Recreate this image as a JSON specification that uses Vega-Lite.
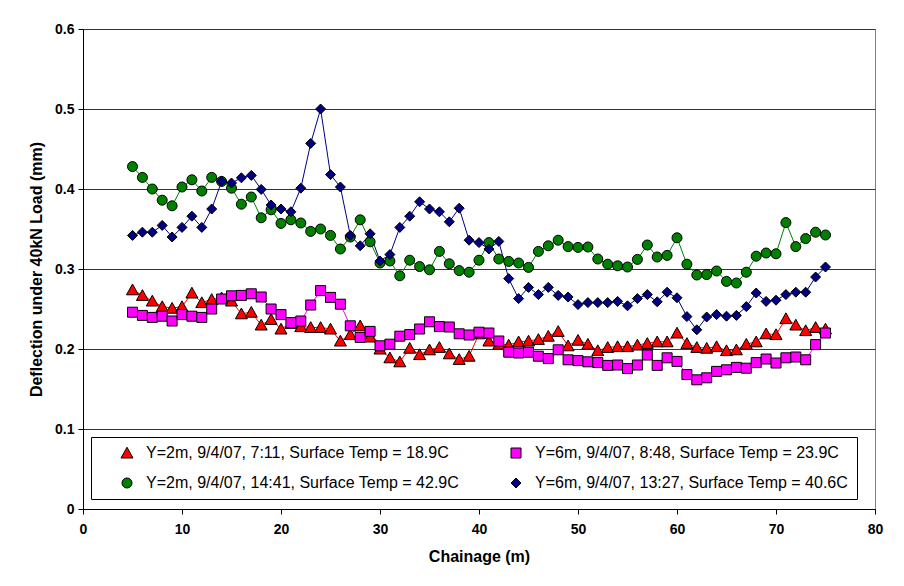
{
  "$schema": "https://vega.github.io/schema/vega-lite/v6.json",
  "width": 792,
  "height": 480,
  "autosize": {"type": "none"},
  "padding": {"left": 83, "top": 29, "right": 29, "bottom": 77},
  "background": "white",
  "config": {
    "view": {"stroke": "#808080", "strokeWidth": 1},
    "font": "Liberation Sans"
  },
  "datasets": {
    "d": [
      {"series": "Y=2m, 9/4/07, 7:11, Surface Temp = 18.9C", "chainage": 5, "deflection": 0.274},
      {"series": "Y=2m, 9/4/07, 7:11, Surface Temp = 18.9C", "chainage": 6, "deflection": 0.267},
      {"series": "Y=2m, 9/4/07, 7:11, Surface Temp = 18.9C", "chainage": 7, "deflection": 0.260},
      {"series": "Y=2m, 9/4/07, 7:11, Surface Temp = 18.9C", "chainage": 8, "deflection": 0.253},
      {"series": "Y=2m, 9/4/07, 7:11, Surface Temp = 18.9C", "chainage": 9, "deflection": 0.251},
      {"series": "Y=2m, 9/4/07, 7:11, Surface Temp = 18.9C", "chainage": 10, "deflection": 0.253},
      {"series": "Y=2m, 9/4/07, 7:11, Surface Temp = 18.9C", "chainage": 11, "deflection": 0.270},
      {"series": "Y=2m, 9/4/07, 7:11, Surface Temp = 18.9C", "chainage": 12, "deflection": 0.258},
      {"series": "Y=2m, 9/4/07, 7:11, Surface Temp = 18.9C", "chainage": 13, "deflection": 0.262},
      {"series": "Y=2m, 9/4/07, 7:11, Surface Temp = 18.9C", "chainage": 14, "deflection": 0.264},
      {"series": "Y=2m, 9/4/07, 7:11, Surface Temp = 18.9C", "chainage": 15, "deflection": 0.260},
      {"series": "Y=2m, 9/4/07, 7:11, Surface Temp = 18.9C", "chainage": 16, "deflection": 0.244},
      {"series": "Y=2m, 9/4/07, 7:11, Surface Temp = 18.9C", "chainage": 17, "deflection": 0.246},
      {"series": "Y=2m, 9/4/07, 7:11, Surface Temp = 18.9C", "chainage": 18, "deflection": 0.230},
      {"series": "Y=2m, 9/4/07, 7:11, Surface Temp = 18.9C", "chainage": 19, "deflection": 0.237},
      {"series": "Y=2m, 9/4/07, 7:11, Surface Temp = 18.9C", "chainage": 20, "deflection": 0.225},
      {"series": "Y=2m, 9/4/07, 7:11, Surface Temp = 18.9C", "chainage": 21, "deflection": 0.232},
      {"series": "Y=2m, 9/4/07, 7:11, Surface Temp = 18.9C", "chainage": 22, "deflection": 0.228},
      {"series": "Y=2m, 9/4/07, 7:11, Surface Temp = 18.9C", "chainage": 23, "deflection": 0.227},
      {"series": "Y=2m, 9/4/07, 7:11, Surface Temp = 18.9C", "chainage": 24, "deflection": 0.227},
      {"series": "Y=2m, 9/4/07, 7:11, Surface Temp = 18.9C", "chainage": 25, "deflection": 0.225},
      {"series": "Y=2m, 9/4/07, 7:11, Surface Temp = 18.9C", "chainage": 26, "deflection": 0.210},
      {"series": "Y=2m, 9/4/07, 7:11, Surface Temp = 18.9C", "chainage": 27, "deflection": 0.218},
      {"series": "Y=2m, 9/4/07, 7:11, Surface Temp = 18.9C", "chainage": 28, "deflection": 0.229},
      {"series": "Y=2m, 9/4/07, 7:11, Surface Temp = 18.9C", "chainage": 29, "deflection": 0.215},
      {"series": "Y=2m, 9/4/07, 7:11, Surface Temp = 18.9C", "chainage": 30, "deflection": 0.200},
      {"series": "Y=2m, 9/4/07, 7:11, Surface Temp = 18.9C", "chainage": 31, "deflection": 0.189},
      {"series": "Y=2m, 9/4/07, 7:11, Surface Temp = 18.9C", "chainage": 32, "deflection": 0.184},
      {"series": "Y=2m, 9/4/07, 7:11, Surface Temp = 18.9C", "chainage": 33, "deflection": 0.201},
      {"series": "Y=2m, 9/4/07, 7:11, Surface Temp = 18.9C", "chainage": 34, "deflection": 0.193},
      {"series": "Y=2m, 9/4/07, 7:11, Surface Temp = 18.9C", "chainage": 35, "deflection": 0.199},
      {"series": "Y=2m, 9/4/07, 7:11, Surface Temp = 18.9C", "chainage": 36, "deflection": 0.202},
      {"series": "Y=2m, 9/4/07, 7:11, Surface Temp = 18.9C", "chainage": 37, "deflection": 0.194},
      {"series": "Y=2m, 9/4/07, 7:11, Surface Temp = 18.9C", "chainage": 38, "deflection": 0.187},
      {"series": "Y=2m, 9/4/07, 7:11, Surface Temp = 18.9C", "chainage": 39, "deflection": 0.191},
      {"series": "Y=2m, 9/4/07, 7:11, Surface Temp = 18.9C", "chainage": 40, "deflection": 0.219},
      {"series": "Y=2m, 9/4/07, 7:11, Surface Temp = 18.9C", "chainage": 41, "deflection": 0.210},
      {"series": "Y=2m, 9/4/07, 7:11, Surface Temp = 18.9C", "chainage": 42, "deflection": 0.206},
      {"series": "Y=2m, 9/4/07, 7:11, Surface Temp = 18.9C", "chainage": 43, "deflection": 0.205},
      {"series": "Y=2m, 9/4/07, 7:11, Surface Temp = 18.9C", "chainage": 44, "deflection": 0.209},
      {"series": "Y=2m, 9/4/07, 7:11, Surface Temp = 18.9C", "chainage": 45, "deflection": 0.210},
      {"series": "Y=2m, 9/4/07, 7:11, Surface Temp = 18.9C", "chainage": 46, "deflection": 0.212},
      {"series": "Y=2m, 9/4/07, 7:11, Surface Temp = 18.9C", "chainage": 47, "deflection": 0.216},
      {"series": "Y=2m, 9/4/07, 7:11, Surface Temp = 18.9C", "chainage": 48, "deflection": 0.222},
      {"series": "Y=2m, 9/4/07, 7:11, Surface Temp = 18.9C", "chainage": 49, "deflection": 0.204},
      {"series": "Y=2m, 9/4/07, 7:11, Surface Temp = 18.9C", "chainage": 50, "deflection": 0.211},
      {"series": "Y=2m, 9/4/07, 7:11, Surface Temp = 18.9C", "chainage": 51, "deflection": 0.206},
      {"series": "Y=2m, 9/4/07, 7:11, Surface Temp = 18.9C", "chainage": 52, "deflection": 0.198},
      {"series": "Y=2m, 9/4/07, 7:11, Surface Temp = 18.9C", "chainage": 53, "deflection": 0.202},
      {"series": "Y=2m, 9/4/07, 7:11, Surface Temp = 18.9C", "chainage": 54, "deflection": 0.203},
      {"series": "Y=2m, 9/4/07, 7:11, Surface Temp = 18.9C", "chainage": 55, "deflection": 0.203},
      {"series": "Y=2m, 9/4/07, 7:11, Surface Temp = 18.9C", "chainage": 56, "deflection": 0.205},
      {"series": "Y=2m, 9/4/07, 7:11, Surface Temp = 18.9C", "chainage": 57, "deflection": 0.207},
      {"series": "Y=2m, 9/4/07, 7:11, Surface Temp = 18.9C", "chainage": 58, "deflection": 0.209},
      {"series": "Y=2m, 9/4/07, 7:11, Surface Temp = 18.9C", "chainage": 59, "deflection": 0.209},
      {"series": "Y=2m, 9/4/07, 7:11, Surface Temp = 18.9C", "chainage": 60, "deflection": 0.220},
      {"series": "Y=2m, 9/4/07, 7:11, Surface Temp = 18.9C", "chainage": 61, "deflection": 0.207},
      {"series": "Y=2m, 9/4/07, 7:11, Surface Temp = 18.9C", "chainage": 62, "deflection": 0.202},
      {"series": "Y=2m, 9/4/07, 7:11, Surface Temp = 18.9C", "chainage": 63, "deflection": 0.201},
      {"series": "Y=2m, 9/4/07, 7:11, Surface Temp = 18.9C", "chainage": 64, "deflection": 0.203},
      {"series": "Y=2m, 9/4/07, 7:11, Surface Temp = 18.9C", "chainage": 65, "deflection": 0.198},
      {"series": "Y=2m, 9/4/07, 7:11, Surface Temp = 18.9C", "chainage": 66, "deflection": 0.199},
      {"series": "Y=2m, 9/4/07, 7:11, Surface Temp = 18.9C", "chainage": 67, "deflection": 0.206},
      {"series": "Y=2m, 9/4/07, 7:11, Surface Temp = 18.9C", "chainage": 68, "deflection": 0.209},
      {"series": "Y=2m, 9/4/07, 7:11, Surface Temp = 18.9C", "chainage": 69, "deflection": 0.219},
      {"series": "Y=2m, 9/4/07, 7:11, Surface Temp = 18.9C", "chainage": 70, "deflection": 0.218},
      {"series": "Y=2m, 9/4/07, 7:11, Surface Temp = 18.9C", "chainage": 71, "deflection": 0.238},
      {"series": "Y=2m, 9/4/07, 7:11, Surface Temp = 18.9C", "chainage": 72, "deflection": 0.230},
      {"series": "Y=2m, 9/4/07, 7:11, Surface Temp = 18.9C", "chainage": 73, "deflection": 0.223},
      {"series": "Y=2m, 9/4/07, 7:11, Surface Temp = 18.9C", "chainage": 74, "deflection": 0.227},
      {"series": "Y=2m, 9/4/07, 7:11, Surface Temp = 18.9C", "chainage": 75, "deflection": 0.225},

      {"series": "Y=6m, 9/4/07, 8:48, Surface Temp = 23.9C", "chainage": 5, "deflection": 0.246},
      {"series": "Y=6m, 9/4/07, 8:48, Surface Temp = 23.9C", "chainage": 6, "deflection": 0.242},
      {"series": "Y=6m, 9/4/07, 8:48, Surface Temp = 23.9C", "chainage": 7, "deflection": 0.2395},
      {"series": "Y=6m, 9/4/07, 8:48, Surface Temp = 23.9C", "chainage": 8, "deflection": 0.241},
      {"series": "Y=6m, 9/4/07, 8:48, Surface Temp = 23.9C", "chainage": 9, "deflection": 0.235},
      {"series": "Y=6m, 9/4/07, 8:48, Surface Temp = 23.9C", "chainage": 10, "deflection": 0.243},
      {"series": "Y=6m, 9/4/07, 8:48, Surface Temp = 23.9C", "chainage": 11, "deflection": 0.241},
      {"series": "Y=6m, 9/4/07, 8:48, Surface Temp = 23.9C", "chainage": 12, "deflection": 0.2395},
      {"series": "Y=6m, 9/4/07, 8:48, Surface Temp = 23.9C", "chainage": 13, "deflection": 0.250},
      {"series": "Y=6m, 9/4/07, 8:48, Surface Temp = 23.9C", "chainage": 14, "deflection": 0.2625},
      {"series": "Y=6m, 9/4/07, 8:48, Surface Temp = 23.9C", "chainage": 15, "deflection": 0.2665},
      {"series": "Y=6m, 9/4/07, 8:48, Surface Temp = 23.9C", "chainage": 16, "deflection": 0.267},
      {"series": "Y=6m, 9/4/07, 8:48, Surface Temp = 23.9C", "chainage": 17, "deflection": 0.269},
      {"series": "Y=6m, 9/4/07, 8:48, Surface Temp = 23.9C", "chainage": 18, "deflection": 0.265},
      {"series": "Y=6m, 9/4/07, 8:48, Surface Temp = 23.9C", "chainage": 19, "deflection": 0.250},
      {"series": "Y=6m, 9/4/07, 8:48, Surface Temp = 23.9C", "chainage": 20, "deflection": 0.243},
      {"series": "Y=6m, 9/4/07, 8:48, Surface Temp = 23.9C", "chainage": 21, "deflection": 0.233},
      {"series": "Y=6m, 9/4/07, 8:48, Surface Temp = 23.9C", "chainage": 22, "deflection": 0.235},
      {"series": "Y=6m, 9/4/07, 8:48, Surface Temp = 23.9C", "chainage": 23, "deflection": 0.255},
      {"series": "Y=6m, 9/4/07, 8:48, Surface Temp = 23.9C", "chainage": 24, "deflection": 0.273},
      {"series": "Y=6m, 9/4/07, 8:48, Surface Temp = 23.9C", "chainage": 25, "deflection": 0.2645},
      {"series": "Y=6m, 9/4/07, 8:48, Surface Temp = 23.9C", "chainage": 26, "deflection": 0.256},
      {"series": "Y=6m, 9/4/07, 8:48, Surface Temp = 23.9C", "chainage": 27, "deflection": 0.229},
      {"series": "Y=6m, 9/4/07, 8:48, Surface Temp = 23.9C", "chainage": 28, "deflection": 0.2145},
      {"series": "Y=6m, 9/4/07, 8:48, Surface Temp = 23.9C", "chainage": 29, "deflection": 0.222},
      {"series": "Y=6m, 9/4/07, 8:48, Surface Temp = 23.9C", "chainage": 30, "deflection": 0.204},
      {"series": "Y=6m, 9/4/07, 8:48, Surface Temp = 23.9C", "chainage": 31, "deflection": 0.206},
      {"series": "Y=6m, 9/4/07, 8:48, Surface Temp = 23.9C", "chainage": 32, "deflection": 0.216},
      {"series": "Y=6m, 9/4/07, 8:48, Surface Temp = 23.9C", "chainage": 33, "deflection": 0.218},
      {"series": "Y=6m, 9/4/07, 8:48, Surface Temp = 23.9C", "chainage": 34, "deflection": 0.225},
      {"series": "Y=6m, 9/4/07, 8:48, Surface Temp = 23.9C", "chainage": 35, "deflection": 0.234},
      {"series": "Y=6m, 9/4/07, 8:48, Surface Temp = 23.9C", "chainage": 36, "deflection": 0.228},
      {"series": "Y=6m, 9/4/07, 8:48, Surface Temp = 23.9C", "chainage": 37, "deflection": 0.2275},
      {"series": "Y=6m, 9/4/07, 8:48, Surface Temp = 23.9C", "chainage": 38, "deflection": 0.219},
      {"series": "Y=6m, 9/4/07, 8:48, Surface Temp = 23.9C", "chainage": 39, "deflection": 0.2175},
      {"series": "Y=6m, 9/4/07, 8:48, Surface Temp = 23.9C", "chainage": 40, "deflection": 0.221},
      {"series": "Y=6m, 9/4/07, 8:48, Surface Temp = 23.9C", "chainage": 41, "deflection": 0.220},
      {"series": "Y=6m, 9/4/07, 8:48, Surface Temp = 23.9C", "chainage": 42, "deflection": 0.210},
      {"series": "Y=6m, 9/4/07, 8:48, Surface Temp = 23.9C", "chainage": 43, "deflection": 0.196},
      {"series": "Y=6m, 9/4/07, 8:48, Surface Temp = 23.9C", "chainage": 44, "deflection": 0.195},
      {"series": "Y=6m, 9/4/07, 8:48, Surface Temp = 23.9C", "chainage": 45, "deflection": 0.196},
      {"series": "Y=6m, 9/4/07, 8:48, Surface Temp = 23.9C", "chainage": 46, "deflection": 0.191},
      {"series": "Y=6m, 9/4/07, 8:48, Surface Temp = 23.9C", "chainage": 47, "deflection": 0.188},
      {"series": "Y=6m, 9/4/07, 8:48, Surface Temp = 23.9C", "chainage": 48, "deflection": 0.199},
      {"series": "Y=6m, 9/4/07, 8:48, Surface Temp = 23.9C", "chainage": 49, "deflection": 0.1865},
      {"series": "Y=6m, 9/4/07, 8:48, Surface Temp = 23.9C", "chainage": 50, "deflection": 0.1855},
      {"series": "Y=6m, 9/4/07, 8:48, Surface Temp = 23.9C", "chainage": 51, "deflection": 0.184},
      {"series": "Y=6m, 9/4/07, 8:48, Surface Temp = 23.9C", "chainage": 52, "deflection": 0.183},
      {"series": "Y=6m, 9/4/07, 8:48, Surface Temp = 23.9C", "chainage": 53, "deflection": 0.1795},
      {"series": "Y=6m, 9/4/07, 8:48, Surface Temp = 23.9C", "chainage": 54, "deflection": 0.180},
      {"series": "Y=6m, 9/4/07, 8:48, Surface Temp = 23.9C", "chainage": 55, "deflection": 0.1755},
      {"series": "Y=6m, 9/4/07, 8:48, Surface Temp = 23.9C", "chainage": 56, "deflection": 0.180},
      {"series": "Y=6m, 9/4/07, 8:48, Surface Temp = 23.9C", "chainage": 57, "deflection": 0.1925},
      {"series": "Y=6m, 9/4/07, 8:48, Surface Temp = 23.9C", "chainage": 58, "deflection": 0.1795},
      {"series": "Y=6m, 9/4/07, 8:48, Surface Temp = 23.9C", "chainage": 59, "deflection": 0.189},
      {"series": "Y=6m, 9/4/07, 8:48, Surface Temp = 23.9C", "chainage": 60, "deflection": 0.1845},
      {"series": "Y=6m, 9/4/07, 8:48, Surface Temp = 23.9C", "chainage": 61, "deflection": 0.168},
      {"series": "Y=6m, 9/4/07, 8:48, Surface Temp = 23.9C", "chainage": 62, "deflection": 0.1615},
      {"series": "Y=6m, 9/4/07, 8:48, Surface Temp = 23.9C", "chainage": 63, "deflection": 0.164},
      {"series": "Y=6m, 9/4/07, 8:48, Surface Temp = 23.9C", "chainage": 64, "deflection": 0.172},
      {"series": "Y=6m, 9/4/07, 8:48, Surface Temp = 23.9C", "chainage": 65, "deflection": 0.174},
      {"series": "Y=6m, 9/4/07, 8:48, Surface Temp = 23.9C", "chainage": 66, "deflection": 0.177},
      {"series": "Y=6m, 9/4/07, 8:48, Surface Temp = 23.9C", "chainage": 67, "deflection": 0.176},
      {"series": "Y=6m, 9/4/07, 8:48, Surface Temp = 23.9C", "chainage": 68, "deflection": 0.183},
      {"series": "Y=6m, 9/4/07, 8:48, Surface Temp = 23.9C", "chainage": 69, "deflection": 0.1875},
      {"series": "Y=6m, 9/4/07, 8:48, Surface Temp = 23.9C", "chainage": 70, "deflection": 0.1825},
      {"series": "Y=6m, 9/4/07, 8:48, Surface Temp = 23.9C", "chainage": 71, "deflection": 0.189},
      {"series": "Y=6m, 9/4/07, 8:48, Surface Temp = 23.9C", "chainage": 72, "deflection": 0.190},
      {"series": "Y=6m, 9/4/07, 8:48, Surface Temp = 23.9C", "chainage": 73, "deflection": 0.1865},
      {"series": "Y=6m, 9/4/07, 8:48, Surface Temp = 23.9C", "chainage": 74, "deflection": 0.2055},
      {"series": "Y=6m, 9/4/07, 8:48, Surface Temp = 23.9C", "chainage": 75, "deflection": 0.220},

      {"series": "Y=2m, 9/4/07, 14:41, Surface Temp = 42.9C", "chainage": 5, "deflection": 0.428},
      {"series": "Y=2m, 9/4/07, 14:41, Surface Temp = 42.9C", "chainage": 6, "deflection": 0.4145},
      {"series": "Y=2m, 9/4/07, 14:41, Surface Temp = 42.9C", "chainage": 7, "deflection": 0.400},
      {"series": "Y=2m, 9/4/07, 14:41, Surface Temp = 42.9C", "chainage": 8, "deflection": 0.386},
      {"series": "Y=2m, 9/4/07, 14:41, Surface Temp = 42.9C", "chainage": 9, "deflection": 0.379},
      {"series": "Y=2m, 9/4/07, 14:41, Surface Temp = 42.9C", "chainage": 10, "deflection": 0.4025},
      {"series": "Y=2m, 9/4/07, 14:41, Surface Temp = 42.9C", "chainage": 11, "deflection": 0.4115},
      {"series": "Y=2m, 9/4/07, 14:41, Surface Temp = 42.9C", "chainage": 12, "deflection": 0.3975},
      {"series": "Y=2m, 9/4/07, 14:41, Surface Temp = 42.9C", "chainage": 13, "deflection": 0.4145},
      {"series": "Y=2m, 9/4/07, 14:41, Surface Temp = 42.9C", "chainage": 14, "deflection": 0.4095},
      {"series": "Y=2m, 9/4/07, 14:41, Surface Temp = 42.9C", "chainage": 15, "deflection": 0.401},
      {"series": "Y=2m, 9/4/07, 14:41, Surface Temp = 42.9C", "chainage": 16, "deflection": 0.381},
      {"series": "Y=2m, 9/4/07, 14:41, Surface Temp = 42.9C", "chainage": 17, "deflection": 0.390},
      {"series": "Y=2m, 9/4/07, 14:41, Surface Temp = 42.9C", "chainage": 18, "deflection": 0.364},
      {"series": "Y=2m, 9/4/07, 14:41, Surface Temp = 42.9C", "chainage": 19, "deflection": 0.374},
      {"series": "Y=2m, 9/4/07, 14:41, Surface Temp = 42.9C", "chainage": 20, "deflection": 0.357},
      {"series": "Y=2m, 9/4/07, 14:41, Surface Temp = 42.9C", "chainage": 21, "deflection": 0.3615},
      {"series": "Y=2m, 9/4/07, 14:41, Surface Temp = 42.9C", "chainage": 22, "deflection": 0.3575},
      {"series": "Y=2m, 9/4/07, 14:41, Surface Temp = 42.9C", "chainage": 23, "deflection": 0.347},
      {"series": "Y=2m, 9/4/07, 14:41, Surface Temp = 42.9C", "chainage": 24, "deflection": 0.350},
      {"series": "Y=2m, 9/4/07, 14:41, Surface Temp = 42.9C", "chainage": 25, "deflection": 0.342},
      {"series": "Y=2m, 9/4/07, 14:41, Surface Temp = 42.9C", "chainage": 26, "deflection": 0.325},
      {"series": "Y=2m, 9/4/07, 14:41, Surface Temp = 42.9C", "chainage": 27, "deflection": 0.340},
      {"series": "Y=2m, 9/4/07, 14:41, Surface Temp = 42.9C", "chainage": 28, "deflection": 0.3615},
      {"series": "Y=2m, 9/4/07, 14:41, Surface Temp = 42.9C", "chainage": 29, "deflection": 0.334},
      {"series": "Y=2m, 9/4/07, 14:41, Surface Temp = 42.9C", "chainage": 30, "deflection": 0.3075},
      {"series": "Y=2m, 9/4/07, 14:41, Surface Temp = 42.9C", "chainage": 31, "deflection": 0.310},
      {"series": "Y=2m, 9/4/07, 14:41, Surface Temp = 42.9C", "chainage": 32, "deflection": 0.2915},
      {"series": "Y=2m, 9/4/07, 14:41, Surface Temp = 42.9C", "chainage": 33, "deflection": 0.311},
      {"series": "Y=2m, 9/4/07, 14:41, Surface Temp = 42.9C", "chainage": 34, "deflection": 0.303},
      {"series": "Y=2m, 9/4/07, 14:41, Surface Temp = 42.9C", "chainage": 35, "deflection": 0.299},
      {"series": "Y=2m, 9/4/07, 14:41, Surface Temp = 42.9C", "chainage": 36, "deflection": 0.322},
      {"series": "Y=2m, 9/4/07, 14:41, Surface Temp = 42.9C", "chainage": 37, "deflection": 0.3065},
      {"series": "Y=2m, 9/4/07, 14:41, Surface Temp = 42.9C", "chainage": 38, "deflection": 0.298},
      {"series": "Y=2m, 9/4/07, 14:41, Surface Temp = 42.9C", "chainage": 39, "deflection": 0.296},
      {"series": "Y=2m, 9/4/07, 14:41, Surface Temp = 42.9C", "chainage": 40, "deflection": 0.311},
      {"series": "Y=2m, 9/4/07, 14:41, Surface Temp = 42.9C", "chainage": 41, "deflection": 0.333},
      {"series": "Y=2m, 9/4/07, 14:41, Surface Temp = 42.9C", "chainage": 42, "deflection": 0.3125},
      {"series": "Y=2m, 9/4/07, 14:41, Surface Temp = 42.9C", "chainage": 43, "deflection": 0.3095},
      {"series": "Y=2m, 9/4/07, 14:41, Surface Temp = 42.9C", "chainage": 44, "deflection": 0.3075},
      {"series": "Y=2m, 9/4/07, 14:41, Surface Temp = 42.9C", "chainage": 45, "deflection": 0.302},
      {"series": "Y=2m, 9/4/07, 14:41, Surface Temp = 42.9C", "chainage": 46, "deflection": 0.322},
      {"series": "Y=2m, 9/4/07, 14:41, Surface Temp = 42.9C", "chainage": 47, "deflection": 0.329},
      {"series": "Y=2m, 9/4/07, 14:41, Surface Temp = 42.9C", "chainage": 48, "deflection": 0.336},
      {"series": "Y=2m, 9/4/07, 14:41, Surface Temp = 42.9C", "chainage": 49, "deflection": 0.328},
      {"series": "Y=2m, 9/4/07, 14:41, Surface Temp = 42.9C", "chainage": 50, "deflection": 0.327},
      {"series": "Y=2m, 9/4/07, 14:41, Surface Temp = 42.9C", "chainage": 51, "deflection": 0.3275},
      {"series": "Y=2m, 9/4/07, 14:41, Surface Temp = 42.9C", "chainage": 52, "deflection": 0.3125},
      {"series": "Y=2m, 9/4/07, 14:41, Surface Temp = 42.9C", "chainage": 53, "deflection": 0.306},
      {"series": "Y=2m, 9/4/07, 14:41, Surface Temp = 42.9C", "chainage": 54, "deflection": 0.304},
      {"series": "Y=2m, 9/4/07, 14:41, Surface Temp = 42.9C", "chainage": 55, "deflection": 0.3025},
      {"series": "Y=2m, 9/4/07, 14:41, Surface Temp = 42.9C", "chainage": 56, "deflection": 0.312},
      {"series": "Y=2m, 9/4/07, 14:41, Surface Temp = 42.9C", "chainage": 57, "deflection": 0.330},
      {"series": "Y=2m, 9/4/07, 14:41, Surface Temp = 42.9C", "chainage": 58, "deflection": 0.315},
      {"series": "Y=2m, 9/4/07, 14:41, Surface Temp = 42.9C", "chainage": 59, "deflection": 0.317},
      {"series": "Y=2m, 9/4/07, 14:41, Surface Temp = 42.9C", "chainage": 60, "deflection": 0.339},
      {"series": "Y=2m, 9/4/07, 14:41, Surface Temp = 42.9C", "chainage": 61, "deflection": 0.306},
      {"series": "Y=2m, 9/4/07, 14:41, Surface Temp = 42.9C", "chainage": 62, "deflection": 0.2925},
      {"series": "Y=2m, 9/4/07, 14:41, Surface Temp = 42.9C", "chainage": 63, "deflection": 0.293},
      {"series": "Y=2m, 9/4/07, 14:41, Surface Temp = 42.9C", "chainage": 64, "deflection": 0.2975},
      {"series": "Y=2m, 9/4/07, 14:41, Surface Temp = 42.9C", "chainage": 65, "deflection": 0.2845},
      {"series": "Y=2m, 9/4/07, 14:41, Surface Temp = 42.9C", "chainage": 66, "deflection": 0.2825},
      {"series": "Y=2m, 9/4/07, 14:41, Surface Temp = 42.9C", "chainage": 67, "deflection": 0.296},
      {"series": "Y=2m, 9/4/07, 14:41, Surface Temp = 42.9C", "chainage": 68, "deflection": 0.316},
      {"series": "Y=2m, 9/4/07, 14:41, Surface Temp = 42.9C", "chainage": 69, "deflection": 0.320},
      {"series": "Y=2m, 9/4/07, 14:41, Surface Temp = 42.9C", "chainage": 70, "deflection": 0.319},
      {"series": "Y=2m, 9/4/07, 14:41, Surface Temp = 42.9C", "chainage": 71, "deflection": 0.358},
      {"series": "Y=2m, 9/4/07, 14:41, Surface Temp = 42.9C", "chainage": 72, "deflection": 0.328},
      {"series": "Y=2m, 9/4/07, 14:41, Surface Temp = 42.9C", "chainage": 73, "deflection": 0.338},
      {"series": "Y=2m, 9/4/07, 14:41, Surface Temp = 42.9C", "chainage": 74, "deflection": 0.346},
      {"series": "Y=2m, 9/4/07, 14:41, Surface Temp = 42.9C", "chainage": 75, "deflection": 0.3425},

      {"series": "Y=6m, 9/4/07, 13:27, Surface Temp = 40.6C", "chainage": 5, "deflection": 0.342},
      {"series": "Y=6m, 9/4/07, 13:27, Surface Temp = 40.6C", "chainage": 6, "deflection": 0.346},
      {"series": "Y=6m, 9/4/07, 13:27, Surface Temp = 40.6C", "chainage": 7, "deflection": 0.346},
      {"series": "Y=6m, 9/4/07, 13:27, Surface Temp = 40.6C", "chainage": 8, "deflection": 0.3545},
      {"series": "Y=6m, 9/4/07, 13:27, Surface Temp = 40.6C", "chainage": 9, "deflection": 0.340},
      {"series": "Y=6m, 9/4/07, 13:27, Surface Temp = 40.6C", "chainage": 10, "deflection": 0.352},
      {"series": "Y=6m, 9/4/07, 13:27, Surface Temp = 40.6C", "chainage": 11, "deflection": 0.366},
      {"series": "Y=6m, 9/4/07, 13:27, Surface Temp = 40.6C", "chainage": 12, "deflection": 0.352},
      {"series": "Y=6m, 9/4/07, 13:27, Surface Temp = 40.6C", "chainage": 13, "deflection": 0.375},
      {"series": "Y=6m, 9/4/07, 13:27, Surface Temp = 40.6C", "chainage": 14, "deflection": 0.4095},
      {"series": "Y=6m, 9/4/07, 13:27, Surface Temp = 40.6C", "chainage": 15, "deflection": 0.4075},
      {"series": "Y=6m, 9/4/07, 13:27, Surface Temp = 40.6C", "chainage": 16, "deflection": 0.414},
      {"series": "Y=6m, 9/4/07, 13:27, Surface Temp = 40.6C", "chainage": 17, "deflection": 0.417},
      {"series": "Y=6m, 9/4/07, 13:27, Surface Temp = 40.6C", "chainage": 18, "deflection": 0.3995},
      {"series": "Y=6m, 9/4/07, 13:27, Surface Temp = 40.6C", "chainage": 19, "deflection": 0.380},
      {"series": "Y=6m, 9/4/07, 13:27, Surface Temp = 40.6C", "chainage": 20, "deflection": 0.375},
      {"series": "Y=6m, 9/4/07, 13:27, Surface Temp = 40.6C", "chainage": 21, "deflection": 0.3715},
      {"series": "Y=6m, 9/4/07, 13:27, Surface Temp = 40.6C", "chainage": 22, "deflection": 0.401},
      {"series": "Y=6m, 9/4/07, 13:27, Surface Temp = 40.6C", "chainage": 23, "deflection": 0.457},
      {"series": "Y=6m, 9/4/07, 13:27, Surface Temp = 40.6C", "chainage": 24, "deflection": 0.500},
      {"series": "Y=6m, 9/4/07, 13:27, Surface Temp = 40.6C", "chainage": 25, "deflection": 0.418},
      {"series": "Y=6m, 9/4/07, 13:27, Surface Temp = 40.6C", "chainage": 26, "deflection": 0.4025},
      {"series": "Y=6m, 9/4/07, 13:27, Surface Temp = 40.6C", "chainage": 27, "deflection": 0.342},
      {"series": "Y=6m, 9/4/07, 13:27, Surface Temp = 40.6C", "chainage": 28, "deflection": 0.329},
      {"series": "Y=6m, 9/4/07, 13:27, Surface Temp = 40.6C", "chainage": 29, "deflection": 0.344},
      {"series": "Y=6m, 9/4/07, 13:27, Surface Temp = 40.6C", "chainage": 30, "deflection": 0.310},
      {"series": "Y=6m, 9/4/07, 13:27, Surface Temp = 40.6C", "chainage": 31, "deflection": 0.318},
      {"series": "Y=6m, 9/4/07, 13:27, Surface Temp = 40.6C", "chainage": 32, "deflection": 0.352},
      {"series": "Y=6m, 9/4/07, 13:27, Surface Temp = 40.6C", "chainage": 33, "deflection": 0.366},
      {"series": "Y=6m, 9/4/07, 13:27, Surface Temp = 40.6C", "chainage": 34, "deflection": 0.384},
      {"series": "Y=6m, 9/4/07, 13:27, Surface Temp = 40.6C", "chainage": 35, "deflection": 0.375},
      {"series": "Y=6m, 9/4/07, 13:27, Surface Temp = 40.6C", "chainage": 36, "deflection": 0.3715},
      {"series": "Y=6m, 9/4/07, 13:27, Surface Temp = 40.6C", "chainage": 37, "deflection": 0.359},
      {"series": "Y=6m, 9/4/07, 13:27, Surface Temp = 40.6C", "chainage": 38, "deflection": 0.376},
      {"series": "Y=6m, 9/4/07, 13:27, Surface Temp = 40.6C", "chainage": 39, "deflection": 0.336},
      {"series": "Y=6m, 9/4/07, 13:27, Surface Temp = 40.6C", "chainage": 40, "deflection": 0.333},
      {"series": "Y=6m, 9/4/07, 13:27, Surface Temp = 40.6C", "chainage": 41, "deflection": 0.325},
      {"series": "Y=6m, 9/4/07, 13:27, Surface Temp = 40.6C", "chainage": 42, "deflection": 0.3345},
      {"series": "Y=6m, 9/4/07, 13:27, Surface Temp = 40.6C", "chainage": 43, "deflection": 0.288},
      {"series": "Y=6m, 9/4/07, 13:27, Surface Temp = 40.6C", "chainage": 44, "deflection": 0.263},
      {"series": "Y=6m, 9/4/07, 13:27, Surface Temp = 40.6C", "chainage": 45, "deflection": 0.277},
      {"series": "Y=6m, 9/4/07, 13:27, Surface Temp = 40.6C", "chainage": 46, "deflection": 0.268},
      {"series": "Y=6m, 9/4/07, 13:27, Surface Temp = 40.6C", "chainage": 47, "deflection": 0.277},
      {"series": "Y=6m, 9/4/07, 13:27, Surface Temp = 40.6C", "chainage": 48, "deflection": 0.267},
      {"series": "Y=6m, 9/4/07, 13:27, Surface Temp = 40.6C", "chainage": 49, "deflection": 0.265},
      {"series": "Y=6m, 9/4/07, 13:27, Surface Temp = 40.6C", "chainage": 50, "deflection": 0.2555},
      {"series": "Y=6m, 9/4/07, 13:27, Surface Temp = 40.6C", "chainage": 51, "deflection": 0.258},
      {"series": "Y=6m, 9/4/07, 13:27, Surface Temp = 40.6C", "chainage": 52, "deflection": 0.258},
      {"series": "Y=6m, 9/4/07, 13:27, Surface Temp = 40.6C", "chainage": 53, "deflection": 0.258},
      {"series": "Y=6m, 9/4/07, 13:27, Surface Temp = 40.6C", "chainage": 54, "deflection": 0.2595},
      {"series": "Y=6m, 9/4/07, 13:27, Surface Temp = 40.6C", "chainage": 55, "deflection": 0.254},
      {"series": "Y=6m, 9/4/07, 13:27, Surface Temp = 40.6C", "chainage": 56, "deflection": 0.263},
      {"series": "Y=6m, 9/4/07, 13:27, Surface Temp = 40.6C", "chainage": 57, "deflection": 0.268},
      {"series": "Y=6m, 9/4/07, 13:27, Surface Temp = 40.6C", "chainage": 58, "deflection": 0.259},
      {"series": "Y=6m, 9/4/07, 13:27, Surface Temp = 40.6C", "chainage": 59, "deflection": 0.271},
      {"series": "Y=6m, 9/4/07, 13:27, Surface Temp = 40.6C", "chainage": 60, "deflection": 0.264},
      {"series": "Y=6m, 9/4/07, 13:27, Surface Temp = 40.6C", "chainage": 61, "deflection": 0.2405},
      {"series": "Y=6m, 9/4/07, 13:27, Surface Temp = 40.6C", "chainage": 62, "deflection": 0.224},
      {"series": "Y=6m, 9/4/07, 13:27, Surface Temp = 40.6C", "chainage": 63, "deflection": 0.240},
      {"series": "Y=6m, 9/4/07, 13:27, Surface Temp = 40.6C", "chainage": 64, "deflection": 0.243},
      {"series": "Y=6m, 9/4/07, 13:27, Surface Temp = 40.6C", "chainage": 65, "deflection": 0.241},
      {"series": "Y=6m, 9/4/07, 13:27, Surface Temp = 40.6C", "chainage": 66, "deflection": 0.242},
      {"series": "Y=6m, 9/4/07, 13:27, Surface Temp = 40.6C", "chainage": 67, "deflection": 0.253},
      {"series": "Y=6m, 9/4/07, 13:27, Surface Temp = 40.6C", "chainage": 68, "deflection": 0.270},
      {"series": "Y=6m, 9/4/07, 13:27, Surface Temp = 40.6C", "chainage": 69, "deflection": 0.2595},
      {"series": "Y=6m, 9/4/07, 13:27, Surface Temp = 40.6C", "chainage": 70, "deflection": 0.261},
      {"series": "Y=6m, 9/4/07, 13:27, Surface Temp = 40.6C", "chainage": 71, "deflection": 0.268},
      {"series": "Y=6m, 9/4/07, 13:27, Surface Temp = 40.6C", "chainage": 72, "deflection": 0.271},
      {"series": "Y=6m, 9/4/07, 13:27, Surface Temp = 40.6C", "chainage": 73, "deflection": 0.271},
      {"series": "Y=6m, 9/4/07, 13:27, Surface Temp = 40.6C", "chainage": 74, "deflection": 0.290},
      {"series": "Y=6m, 9/4/07, 13:27, Surface Temp = 40.6C", "chainage": 75, "deflection": 0.3025}
    ]
  },
  "data": {"name": "d"},
  "encoding": {
    "x": {
      "field": "chainage", "type": "quantitative",
      "scale": {"domain": [0, 80], "nice": false, "zero": true},
      "axis": {
        "values": [0, 10, 20, 30, 40, 50, 60, 70, 80],
        "title": "Chainage (m)", "grid": false,
        "domainColor": "black", "tickColor": "black", "tickSize": 5,
        "labelFont": "Liberation Sans", "labelFontSize": 14, "labelFontWeight": "bold", "labelColor": "black",
        "labelPadding": 8, "labelFlush": false,
        "titleFont": "Liberation Sans", "titleFontSize": 16, "titleFontWeight": "bold", "titleColor": "black",
        "titlePadding": 12
      }
    },
    "y": {
      "field": "deflection", "type": "quantitative",
      "scale": {"domain": [0, 0.6], "nice": false},
      "axis": {
        "values": [0, 0.1, 0.2, 0.3, 0.4, 0.5, 0.6],
        "format": "~g",
        "title": "Deflection under 40kN Load (mm)", "grid": true,
        "gridColor": "#333333", "gridWidth": 1, "gridOpacity": 1,
        "domainColor": "black", "tickColor": "black", "tickSize": 5,
        "labelFont": "Liberation Sans", "labelFontSize": 14, "labelFontWeight": "bold", "labelColor": "black",
        "labelPadding": 4, "labelFlush": false,
        "titleFont": "Liberation Sans", "titleFontSize": 16, "titleFontWeight": "bold", "titleColor": "black",
        "titlePadding": 10
      }
    }
  },
  "layer": [
    {
      "transform": [{"filter": {"field": "series", "equal": "Y=2m, 9/4/07, 7:11, Surface Temp = 18.9C"}}],
      "mark": {"type": "line", "strokeWidth": 1, "color": "#FF0000"},
      "encoding": {}
    },
    {
      "transform": [{"filter": {"field": "series", "equal": "Y=6m, 9/4/07, 8:48, Surface Temp = 23.9C"}}],
      "mark": {"type": "line", "strokeWidth": 1, "color": "#FF00FF"},
      "encoding": {}
    },
    {
      "transform": [{"filter": {"field": "series", "equal": "Y=2m, 9/4/07, 14:41, Surface Temp = 42.9C"}}],
      "mark": {"type": "line", "strokeWidth": 1, "color": "#008000"},
      "encoding": {}
    },
    {
      "transform": [{"filter": {"field": "series", "equal": "Y=6m, 9/4/07, 13:27, Surface Temp = 40.6C"}}],
      "mark": {"type": "line", "strokeWidth": 1, "color": "#000080"},
      "encoding": {}
    },
    {
      "mark": {"type": "point", "filled": true, "size": 100, "stroke": "black", "strokeWidth": 1, "opacity": 1},
      "encoding": {
        "color": {
          "field": "series", "type": "nominal",
          "scale": {
            "domain": ["Y=2m, 9/4/07, 7:11, Surface Temp = 18.9C", "Y=6m, 9/4/07, 8:48, Surface Temp = 23.9C", "Y=2m, 9/4/07, 14:41, Surface Temp = 42.9C", "Y=6m, 9/4/07, 13:27, Surface Temp = 40.6C"],
            "range": ["#FF0000", "#FF00FF", "#008000", "#000080"]
          },
          "legend": {
            "orient": "none", "legendX": 8, "legendY": 408, "columns": 2, "direction": "horizontal", "title": null,
            "strokeColor": "black", "fillColor": "white", "padding": 8,
            "symbolOffset": 20, "labelOffset": 11, "columnPadding": 28, "rowPadding": 14,
            "labelFont": "Liberation Sans", "labelFontSize": 16, "labelColor": "black", "labelLimit": 500,
            "symbolSize": 100, "symbolStrokeColor": "black", "symbolStrokeWidth": 1, "symbolOpacity": 1,
            "encode": {"symbols": {"update": {"stroke": {"value": "black"}, "strokeWidth": {"value": 1}}}}
          }
        },
        "shape": {
          "field": "series", "type": "nominal",
          "scale": {
            "domain": ["Y=2m, 9/4/07, 7:11, Surface Temp = 18.9C", "Y=6m, 9/4/07, 8:48, Surface Temp = 23.9C", "Y=2m, 9/4/07, 14:41, Surface Temp = 42.9C", "Y=6m, 9/4/07, 13:27, Surface Temp = 40.6C"],
            "range": ["M0,-1.15L1.2,1L-1.2,1Z", "square", "circle", "diamond"]
          },
          "legend": {
            "orient": "none", "legendX": 8, "legendY": 408, "columns": 2, "direction": "horizontal", "title": null,
            "strokeColor": "black", "fillColor": "white", "padding": 8,
            "symbolOffset": 20, "labelOffset": 11, "columnPadding": 28, "rowPadding": 14,
            "labelFont": "Liberation Sans", "labelFontSize": 16, "labelColor": "black", "labelLimit": 500,
            "symbolSize": 100, "symbolStrokeColor": "black", "symbolStrokeWidth": 1, "symbolOpacity": 1,
            "encode": {"symbols": {"update": {"stroke": {"value": "black"}, "strokeWidth": {"value": 1}}}}
          }
        }
      }
    }
  ]
}
